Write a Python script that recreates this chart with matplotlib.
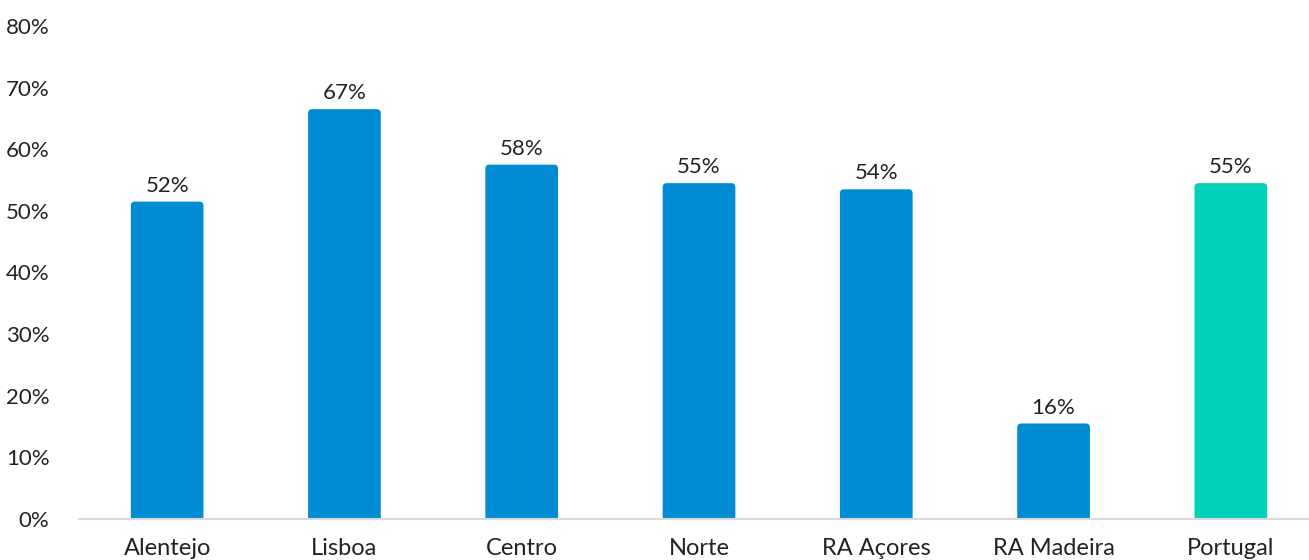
import matplotlib.pyplot as plt
from matplotlib.patches import FancyBboxPatch

regions = ['Alentejo', 'Lisboa', 'Centro', 'Norte', 'RA Açores', 'RA Madeira', 'Portugal']
values = [52, 67, 58, 55, 54, 16, 55]
yticks = [0, 10, 20, 30, 40, 50, 60, 70, 80]

blue = '#008bd2'
teal = '#00d1b8'
colors = [blue] * 6 + [teal]

plt.rcParams['font.family'] = ['Lato', 'DejaVu Sans']

fig = plt.figure(figsize=(13.09, 5.60), dpi=100)
ax = fig.add_axes([78.5 / 1309, 41 / 560, 1241 / 1309, 493 / 560])

x = range(len(regions))
bars = ax.bar(x, values, width=0.41, bottom=-0.5, color=colors, zorder=2)

# swap plain rectangles for ones with slightly rounded tops
px_x = 1241 / 7.0
px_y = 493 / 80.0
for b in bars:
    bx, by = b.get_x(), b.get_y()
    bw, bh = b.get_width(), b.get_height()
    r = 4 / px_x
    fb = FancyBboxPatch((bx, by), bw, bh,
                        boxstyle='round,pad=0,rounding_size=%f' % r,
                        mutation_aspect=px_x / px_y,
                        facecolor=b.get_facecolor(), edgecolor='none', zorder=2)
    ax.add_patch(fb)
    b.set_visible(False)

for i, v in enumerate(values):
    ax.annotate('%d%%' % v, (i, v), xytext=(0, 2), textcoords='offset points',
                ha='center', va='bottom', fontsize=16, color='#222222')

ax.set_xlim(-0.5, 6.5)
ax.set_ylim(0, 80)
ax.set_yticks(yticks)
ax.set_yticklabels(['%d%%' % t for t in yticks], fontsize=16, color='#222222')
ax.set_xticks(list(x))
ax.set_xticklabels(regions, fontsize=17, color='#222222')
ax.tick_params(length=0)
ax.tick_params(axis='y', pad=21)
ax.tick_params(axis='x', pad=14)

for s in ['top', 'right', 'left']:
    ax.spines[s].set_visible(False)
ax.spines['bottom'].set_color('#d9d9d9')
ax.spines['bottom'].set_linewidth(1.5)
ax.spines['bottom'].set_zorder(3)

fig.savefig('out.png', dpi=100)
